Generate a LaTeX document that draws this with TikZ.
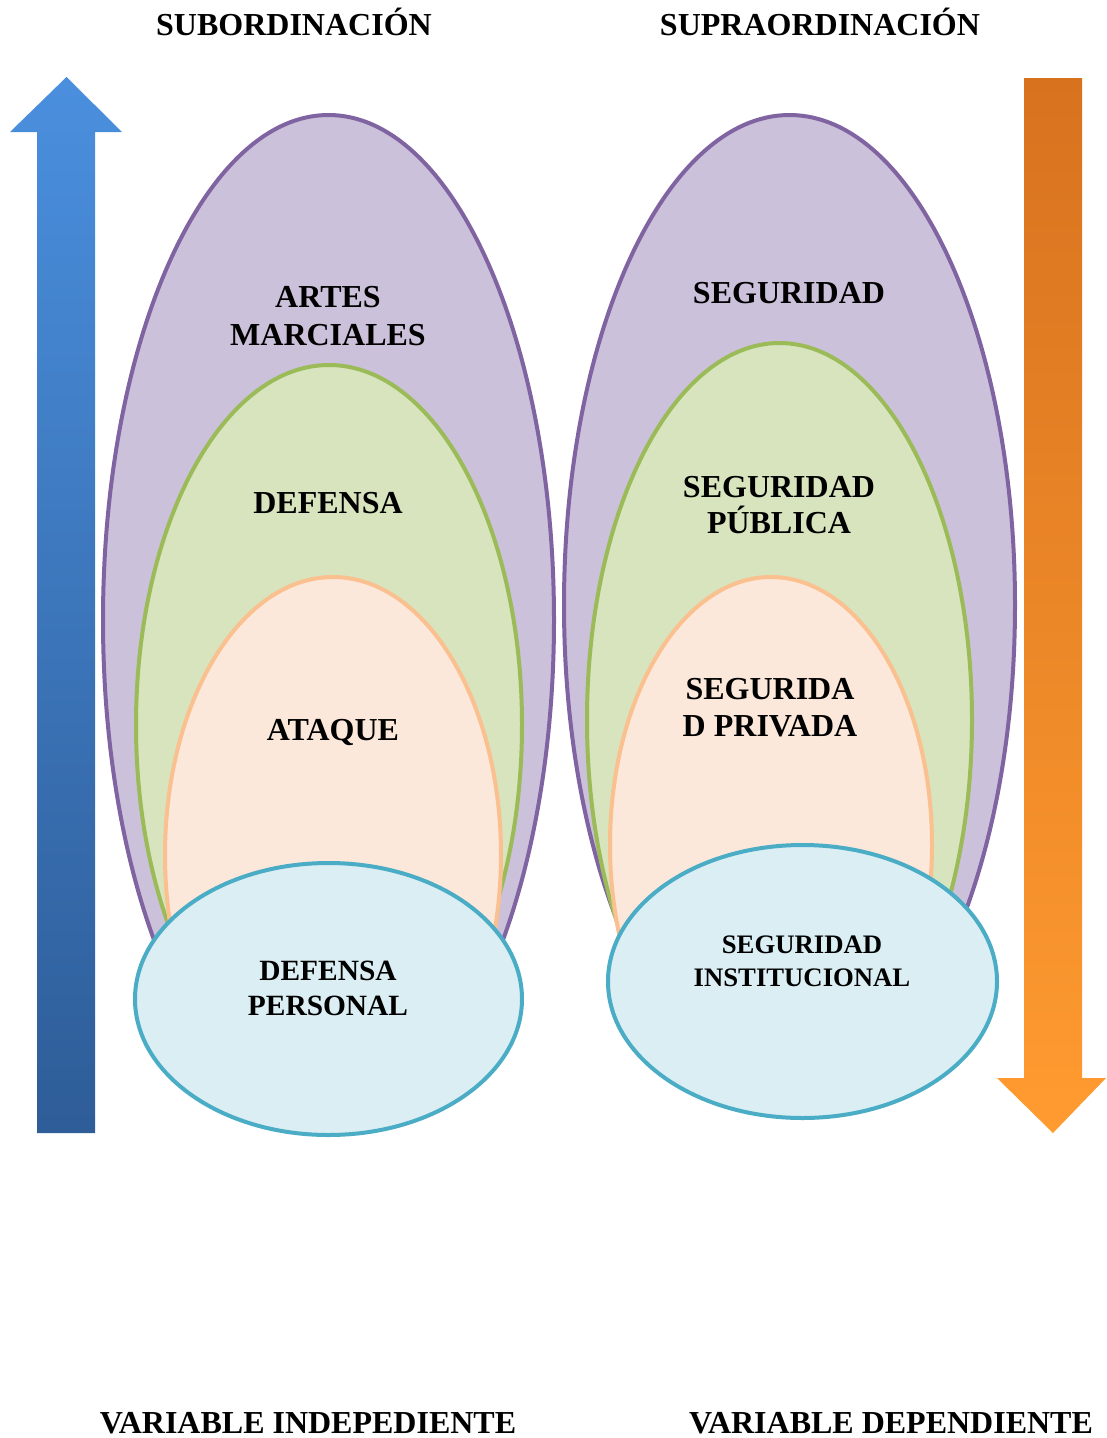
\documentclass[tikz,border=0pt]{standalone}
\usepackage{fontspec}
\setmainfont{Liberation Serif}
\definecolor{purplefill}{HTML}{CCC1DA}
\definecolor{purpleline}{HTML}{8064A2}
\definecolor{greenfill}{HTML}{D7E4BD}
\definecolor{greenline}{HTML}{9BBB59}
\definecolor{peachfill}{HTML}{FCE8DA}
\definecolor{peachline}{HTML}{FAC090}
\definecolor{bluefill}{HTML}{DAEEF3}
\definecolor{blueline}{HTML}{4BACC6}
\definecolor{arrowbluetop}{HTML}{4A8FDE}
\definecolor{arrowbluebot}{HTML}{2E5D98}
\definecolor{arroworangetop}{HTML}{D8721F}
\definecolor{arroworangebot}{HTML}{FF9B30}
\begin{document}
\begin{tikzpicture}[x=1pt,y=-1pt,
  txt/.style={font=\fontsize{32}{36}\selectfont\bfseries, inner sep=0pt, anchor=base},
  smalltxt/.style={font=\fontsize{29.4}{34}\selectfont\bfseries, inner sep=0pt, anchor=base},
  tinytxt/.style={font=\fontsize{26.7}{31}\selectfont\bfseries, inner sep=0pt, anchor=base},
  layer/.style={line width=4pt}
]
\useasboundingbox (0,0) rectangle (1106,1438);

% titles
\node[txt] (t1) at (294,35) {SUBORDINACIÓN};
\node[txt] (t2) at (820,35) {SUPRAORDINACIÓN};
\node[txt] (b1) at (308,1433) {VARIABLE INDEPEDIENTE};
\node[txt] (b2) at (891,1433) {VARIABLE DEPENDIENTE};

% blue arrow (up)
\shade[top color=arrowbluetop, bottom color=arrowbluebot]
  (66.5,77) -- (122,132) -- (95,132) -- (95,1133) -- (37,1133) -- (37,132) -- (10,132) -- cycle;
% orange arrow (down)
\shade[top color=arroworangetop, bottom color=arroworangebot]
  (1024,78) -- (1082,78) -- (1082,1078) -- (1106,1078) -- (1053,1133) -- (997,1078) -- (1024,1078) -- cycle;

% left side ellipses
\draw[layer, draw=purpleline, fill=purplefill] (328.5,620) ellipse [x radius=225.5, y radius=505];
\draw[layer, draw=greenline, fill=greenfill] (329,725) ellipse [x radius=193, y radius=360];
\draw[layer, draw=peachline, fill=peachfill] (333,855) ellipse [x radius=168, y radius=278];
\draw[layer, draw=blueline, fill=bluefill] (328.5,999) ellipse [x radius=193.5, y radius=136];

% right side ellipses
\draw[layer, draw=purpleline, fill=purplefill] (789.5,605) ellipse [x radius=225.5, y radius=490];
\draw[layer, draw=greenline, fill=greenfill] (779.5,720) ellipse [x radius=192.5, y radius=377];
\draw[layer, draw=peachline, fill=peachfill] (771,845) ellipse [x radius=161, y radius=268];
\draw[layer, draw=blueline, fill=bluefill] (802.5,981.5) ellipse [x radius=194.5, y radius=136.5];

% left labels
\node[txt] (l1a) at (328,307) {ARTES};
\node[txt] (l1b) at (328,345) {MARCIALES};
\node[txt] (l2) at (328,513) {DEFENSA};
\node[txt] (l3) at (333,740) {ATAQUE};
\node[smalltxt] (l4a) at (328,980) {DEFENSA};
\node[smalltxt] (l4b) at (328,1015) {PERSONAL};

% right labels
\node[txt] (r1) at (789,303) {SEGURIDAD};
\node[txt] (r2a) at (779,497) {SEGURIDAD};
\node[txt] (r2b) at (779,533) {PÚBLICA};
\node[txt] (r3a) at (770,699) {SEGURIDA};
\node[txt] (r3b) at (770,736) {D PRIVADA};
\node[tinytxt] (r4a) at (802,953) {SEGURIDAD};
\node[tinytxt] (r4b) at (802,986) {INSTITUCIONAL};
\end{tikzpicture}
\end{document}
